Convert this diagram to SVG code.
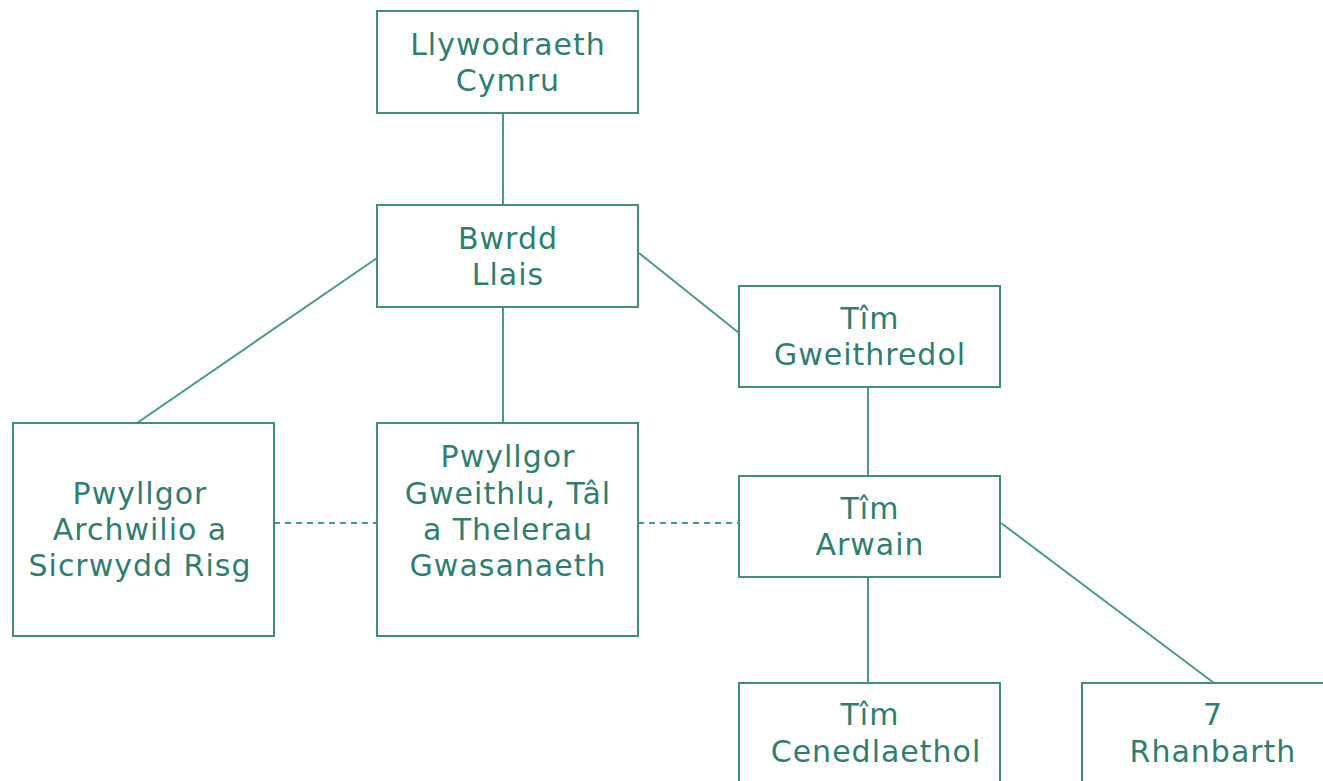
<svg xmlns="http://www.w3.org/2000/svg" width="1323" height="781" viewBox="0 0 1323 781">
<style>
.box{fill:#fff;stroke:#3f8f80;stroke-width:2}
.ln{stroke:#4a9a8b;stroke-width:2;fill:none}
.dash{stroke-dasharray:6 5}
text{font-family:"DejaVu Sans","Liberation Sans",sans-serif;font-size:30px;letter-spacing:1px;fill:#2f7f70;text-anchor:middle}
</style>
<rect width="1323" height="781" fill="#fff"/>
<g id="connectors">
<line class="ln" x1="503" y1="113" x2="503" y2="205"/>
<line class="ln" x1="503" y1="307" x2="503" y2="423"/>
<line class="ln" x1="377" y1="258" x2="137" y2="423"/>
<line class="ln" x1="639" y1="253" x2="739" y2="333"/>
<line class="ln" x1="868" y1="387" x2="868" y2="476"/>
<line class="ln dash" x1="274" y1="523" x2="377" y2="523"/>
<line class="ln dash" x1="638" y1="523" x2="739" y2="523"/>
<line class="ln" x1="868" y1="577" x2="868" y2="683"/>
<line class="ln" x1="1001" y1="523" x2="1214" y2="683"/>
</g>
<g id="llywodraeth">
<rect class="box" x="377" y="11" width="261" height="102"/>
<text x="508" y="55">Llywodraeth</text>
<text x="508" y="91">Cymru</text>
</g>
<g id="bwrdd">
<rect class="box" x="377" y="205" width="261" height="102"/>
<text x="508" y="249">Bwrdd</text>
<text x="508" y="285">Llais</text>
</g>
<g id="gweithredol">
<rect class="box" x="739" y="286" width="261" height="101"/>
<text x="870" y="329">Tîm</text>
<text x="870" y="365">Gweithredol</text>
</g>
<g id="archwilio">
<rect class="box" x="13" y="423" width="261" height="213"/>
<text x="140" y="504">Pwyllgor</text>
<text x="140" y="540">Archwilio a</text>
<text x="140" y="576">Sicrwydd Risg</text>
</g>
<g id="gweithlu">
<rect class="box" x="377" y="423" width="261" height="213"/>
<text x="508" y="467">Pwyllgor</text>
<text x="508" y="504">Gweithlu, Tâl</text>
<text x="508" y="540">a Thelerau</text>
<text x="508" y="576">Gwasanaeth</text>
</g>
<g id="arwain">
<rect class="box" x="739" y="476" width="261" height="101"/>
<text x="870" y="519">Tîm</text>
<text x="870" y="555">Arwain</text>
</g>
<g id="cenedlaethol">
<rect class="box" x="739" y="683" width="261" height="110"/>
<text x="870" y="725">Tîm</text>
<text x="876" y="762">Cenedlaethol</text>
</g>
<g id="rhanbarth">
<rect class="box" x="1082" y="683" width="260" height="110"/>
<text x="1213" y="725">7</text>
<text x="1213" y="762">Rhanbarth</text>
</g>
</svg>
